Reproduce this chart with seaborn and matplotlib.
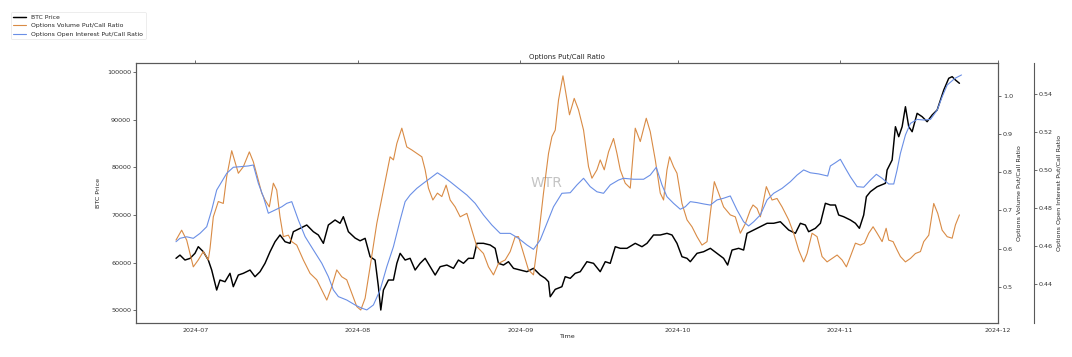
import pandas as pd
import numpy as np
import seaborn as sns
import matplotlib.pyplot as plt
import matplotlib.dates as mdates
import matplotlib.ticker as tick

# day offsets are counted from 2024-07-01
BASE = pd.Timestamp("2024-07-01")

btc_days = [-3.68, -2.92, -1.97, -1.01, -0.06, 0.57, 1.53, 2.48, 3.13, 4.08, 4.71, 5.67, 6.62, 7.25,
            8.21, 9.16, 10.44, 11.39, 12.35, 13.30, 14.26, 15.21, 16.16, 17.12, 18.07, 18.70, 19.98,
            21.26, 22.52, 23.47, 24.43, 25.38, 26.66, 27.61, 28.24, 29.20, 30.48, 31.43, 32.39, 33.34,
            34.29, 34.92, 35.38, 35.88, 36.83, 37.79, 38.44, 39.07, 40.02, 40.97, 41.93, 42.88, 43.84,
            44.79, 45.75, 46.70, 47.98, 49.24, 50.19, 51.15, 52.10, 53.05, 53.70, 54.96, 56.24, 57.19,
            57.82, 58.78, 59.73, 60.69, 61.96, 63.24, 64.50, 65.78, 66.74, 67.37, 67.69, 68.65, 69.92,
            70.55, 71.51, 72.46, 73.42, 74.69, 75.95, 77.23, 78.19, 79.14, 80.10, 81.05, 82.33, 83.91,
            85.19, 86.15, 87.40, 88.68, 89.96, 90.92, 91.87, 92.82, 93.78, 94.41, 95.69, 96.95, 98.23,
            99.50, 100.76, 101.53, 102.37, 103.63, 104.58, 105.23, 106.49, 107.77, 109.05, 110.31,
            111.58, 112.21, 113.17, 114.45, 115.40, 116.35, 116.98, 118.26, 119.22, 120.17, 121.12,
            122.08, 122.71, 123.66, 124.94, 125.90, 126.66, 127.48, 127.99, 128.76, 130.04, 131.62,
            131.94, 132.90, 133.53, 134.16, 134.81, 135.44, 136.07, 136.72, 137.67, 138.63, 139.58,
            140.53, 141.49, 142.12, 142.75, 143.70, 144.35, 144.98, 145.74]
btc_price = [60920, 61600, 60560, 60900, 61970, 63360, 62310, 60560, 58460, 54260, 56360, 56000, 57770,
             54960, 57410, 57770, 58460, 57060, 58110, 59870, 62310, 64410, 65820, 64410, 64070, 66510,
             67220, 67920, 66510, 65820, 64070, 67920, 68970, 68280, 69660, 66510, 65180, 64600, 65120,
             61260, 60560, 55000, 50060, 54260, 56360, 56360, 59870, 61970, 60560, 60920, 58460, 59870,
             60920, 59160, 57410, 59160, 59510, 58820, 60560, 59870, 60920, 60920, 64070, 64070, 63720,
             63020, 59870, 59510, 60210, 58820, 58460, 58110, 58820, 57410, 56720, 56000, 52850, 54400,
             54960, 57060, 56720, 57770, 58110, 60210, 59870, 58110, 60210, 59870, 63360, 63020, 63020,
             64070, 63360, 64070, 65820, 65820, 66170, 65820, 64070, 61260, 60920, 60210, 61970, 62310,
             63020, 61970, 60920, 59510, 62660, 63020, 62660, 66170, 66870, 67560, 68280, 68280, 68610,
             67920, 66870, 66170, 68280, 67920, 66510, 67220, 68280, 72480, 72120, 72120, 70020, 69660,
             68970, 68280, 67220, 70020, 73870, 74920, 75960, 76680, 79470, 81570, 88570, 86470, 88570,
             92770, 88570, 87520, 91380, 90670, 89620, 91030, 92080, 94180, 96280, 98740, 99080, 98380,
             97690]

vol_days = [-3.68, -2.60, -1.64, -0.38, 0.57, 1.53, 2.48, 2.81, 3.44, 4.39, 5.34, 5.99, 6.95, 7.58, 8.21,
            9.16, 10.31, 11.07, 12.02, 12.67, 13.30, 14.12, 14.89, 15.53, 16.16, 16.79, 17.75, 18.40,
            19.35, 20.61, 21.89, 23.17, 24.43, 25.08, 26.03, 26.98, 27.94, 28.89, 29.85, 30.80, 31.56,
            32.39, 33.34, 34.62, 35.88, 37.15, 37.79, 38.44, 39.39, 40.34, 41.30, 42.25, 43.21, 43.84,
            44.47, 45.31, 46.18, 47.02, 47.84, 48.61, 49.56, 50.52, 51.79, 52.75, 53.70, 54.96, 55.92,
            56.87, 57.82, 59.10, 60.06, 61.01, 61.64, 62.60, 63.55, 64.50, 65.46, 66.41, 67.37, 68.02,
            68.65, 69.28, 70.12, 70.88, 71.37, 72.27, 73.09, 74.05, 75.00, 75.65, 76.60, 77.23, 78.00,
            78.82, 79.77, 80.42, 81.05, 82.00, 82.96, 83.91, 84.87, 86.01, 86.77, 87.73, 88.68, 89.31,
            89.96, 90.46, 91.22, 91.87, 92.82, 93.78, 94.73, 95.69, 96.64, 97.60, 98.23, 98.99, 99.81,
            100.76, 102.04, 102.99, 103.95, 104.90, 105.86, 106.37, 107.14, 107.77, 108.91, 110.00,
            110.95, 111.91, 113.17, 114.12, 115.08, 116.03, 116.68, 117.63, 118.59, 119.54, 120.50,
            121.45, 122.41, 123.36, 124.18, 124.94, 125.90, 126.85, 127.61, 128.44, 129.27, 130.04,
            130.99, 131.76, 132.25, 133.09, 133.85, 134.48, 135.44, 136.39, 137.35, 138.30, 138.93,
            139.89, 140.84, 141.60, 142.44, 143.40, 144.35, 144.98, 145.74]
vol_ratio = [0.622, 0.648, 0.622, 0.552, 0.570, 0.592, 0.570, 0.600, 0.683, 0.723, 0.718, 0.788, 0.856,
             0.827, 0.797, 0.814, 0.853, 0.827, 0.779, 0.745, 0.727, 0.709, 0.771, 0.753, 0.683, 0.631,
             0.635, 0.618, 0.609, 0.570, 0.535, 0.518, 0.483, 0.465, 0.500, 0.544, 0.526, 0.518, 0.483,
             0.448, 0.439, 0.470, 0.552, 0.666, 0.753, 0.840, 0.832, 0.875, 0.915, 0.866, 0.858, 0.849,
             0.840, 0.806, 0.758, 0.727, 0.745, 0.736, 0.766, 0.727, 0.709, 0.683, 0.692, 0.648, 0.605,
             0.587, 0.552, 0.531, 0.561, 0.570, 0.592, 0.631, 0.631, 0.587, 0.544, 0.531, 0.631, 0.745,
             0.849, 0.893, 0.910, 0.989, 1.052, 0.989, 0.950, 0.993, 0.963, 0.910, 0.814, 0.784, 0.806,
             0.832, 0.806, 0.853, 0.888, 0.849, 0.806, 0.771, 0.758, 0.915, 0.880, 0.941, 0.906, 0.832,
             0.745, 0.727, 0.806, 0.840, 0.814, 0.797, 0.718, 0.675, 0.657, 0.631, 0.609, 0.618, 0.692,
             0.775, 0.745, 0.709, 0.688, 0.683, 0.640, 0.665, 0.701, 0.714, 0.705, 0.683, 0.762, 0.727,
             0.731, 0.709, 0.675, 0.640, 0.596, 0.565, 0.587, 0.640, 0.631, 0.579, 0.565, 0.574, 0.583,
             0.570, 0.552, 0.579, 0.614, 0.609, 0.614, 0.640, 0.657, 0.640, 0.618, 0.653, 0.622, 0.618,
             0.596, 0.579, 0.565, 0.574, 0.587, 0.592, 0.618, 0.635, 0.718, 0.692, 0.648, 0.631, 0.627,
             0.662, 0.688]

oi_days = [-3.68, -2.92, -1.64, -0.38, 0.90, 2.18, 3.13, 4.08, 5.04, 5.99, 7.25, 8.53, 10.11, 11.07,
           12.02, 12.98, 13.93, 15.21, 16.49, 17.44, 18.40, 19.66, 20.94, 22.52, 24.12, 25.38, 26.34,
           27.29, 28.89, 30.48, 31.76, 32.71, 33.97, 35.25, 36.53, 37.79, 39.07, 40.02, 40.97, 42.25,
           43.51, 44.79, 46.18, 47.33, 48.61, 50.19, 51.79, 53.38, 54.96, 56.56, 58.15, 60.06, 61.64,
           63.24, 64.50, 65.78, 67.06, 68.32, 69.92, 71.51, 72.79, 74.05, 75.32, 76.60, 77.86, 79.14,
           80.73, 81.68, 83.59, 85.50, 86.77, 87.92, 89.01, 89.96, 91.22, 92.50, 93.45, 94.41, 95.69,
           96.95, 98.23, 99.50, 100.76, 102.04, 103.32, 104.58, 105.53, 106.49, 107.77, 109.05, 110.31,
           111.91, 113.49, 114.77, 116.03, 117.31, 118.89, 120.61, 121.12, 122.08, 123.03, 123.99,
           124.94, 126.22, 127.48, 128.76, 129.90, 130.99, 132.25, 133.21, 133.85, 134.48, 135.44,
           136.39, 137.67, 138.93, 140.21, 141.49, 142.44, 143.40, 144.86, 146.13]
oi_ratio = [0.4624, 0.4642, 0.4650, 0.4642, 0.4668, 0.4703, 0.4791, 0.4896, 0.4940, 0.4984, 0.5016,
            0.5019, 0.5023, 0.5028, 0.4932, 0.4861, 0.4774, 0.4791, 0.4808, 0.4826, 0.4835, 0.4738,
            0.4651, 0.4581, 0.4511, 0.4440, 0.4370, 0.4335, 0.4317, 0.4291, 0.4274, 0.4265, 0.4291,
            0.4370, 0.4493, 0.4598, 0.4738, 0.4835, 0.4870, 0.4905, 0.4932, 0.4958, 0.4987, 0.4966,
            0.4940, 0.4905, 0.4870, 0.4826, 0.4765, 0.4712, 0.4668, 0.4668, 0.4642, 0.4607, 0.4584,
            0.4633, 0.4721, 0.4808, 0.4879, 0.4882, 0.4923, 0.4958, 0.4914, 0.4887, 0.4879, 0.4923,
            0.4949, 0.4958, 0.4953, 0.4953, 0.4975, 0.5016, 0.4923, 0.4861, 0.4826, 0.4795, 0.4808,
            0.4835, 0.4830, 0.4823, 0.4817, 0.4844, 0.4853, 0.4865, 0.4791, 0.4729, 0.4707, 0.4729,
            0.4765, 0.4844, 0.4879, 0.4905, 0.4940, 0.4975, 0.5002, 0.4987, 0.4981, 0.4970, 0.5023,
            0.5040, 0.5058, 0.5011, 0.4966, 0.4914, 0.4911, 0.4949, 0.4979, 0.4958, 0.4928, 0.4928,
            0.5002, 0.5089, 0.5186, 0.5247, 0.5268, 0.5265, 0.5268, 0.5317, 0.5387, 0.5449, 0.5484,
            0.5502]


def to_dates(days):
    return BASE + pd.to_timedelta(np.array(days), unit="D")


def main():
    sns.set_style("white")
    plt.rcParams["font.family"] = ["DejaVu Sans"]
    fs = 4.6
    spine_c = "0.35"

    btc = pd.DataFrame({"time": to_dates(btc_days), "value": btc_price})
    vol = pd.DataFrame({"time": to_dates(vol_days), "value": vol_ratio})
    oi = pd.DataFrame({"time": to_dates(oi_days), "value": oi_ratio})

    fig = plt.figure(figsize=(10.72, 3.57), dpi=100)
    ax = fig.add_axes([0.1269, 0.0952, 0.8041, 0.7283])
    ax2 = ax.twinx()
    ax3 = ax.twinx()
    # third axis spine sits ~36 px right of the plot edge
    ax3.spines["right"].set_position(("outward", 26))

    sns.lineplot(data=btc, x="time", y="value", ax=ax, color="black", lw=1.05, legend=False)
    sns.lineplot(data=vol, x="time", y="value", ax=ax2, color="#D98B45", lw=0.8, legend=False)
    sns.lineplot(data=oi, x="time", y="value", ax=ax3, color="#6A8FE6", lw=0.8, legend=False)

    ax.set_xlim(BASE - pd.Timedelta(days=11.3), BASE + pd.Timedelta(days=153.1))
    ax.set_ylim(47330, 101950)
    ax2.set_ylim(0.405, 1.0856)
    ax3.set_ylim(0.4196, 0.5565)

    ax.xaxis.set_major_locator(mdates.MonthLocator())
    ax.xaxis.set_major_formatter(mdates.DateFormatter("%Y-%m"))
    ax.set_yticks(np.arange(50000, 100001, 10000))
    ax2.set_yticks([0.5, 0.6, 0.7, 0.8, 0.9, 1.0])
    ax2.yaxis.set_major_formatter(tick.FormatStrFormatter("%.1f"))
    ax3.set_yticks([0.44, 0.46, 0.48, 0.50, 0.52, 0.54])
    ax3.yaxis.set_major_formatter(tick.FormatStrFormatter("%.2f"))

    for a in (ax, ax2, ax3):
        for s in a.spines.values():
            s.set_color(spine_c)
            s.set_linewidth(0.8)
        a.tick_params(labelsize=fs, length=2, width=0.5, pad=1.5, colors="0.2")
    ax.tick_params(axis="x", top=True)
    ax3.spines["left"].set_visible(False)
    ax3.spines["top"].set_visible(False)
    ax3.spines["bottom"].set_visible(False)

    ax.set_xlabel("Time", fontsize=fs, labelpad=1, color="0.15")
    ax.set_ylabel("BTC Price", fontsize=fs, labelpad=4, color="0.15")
    ax2.set_ylabel("Options Volume Put/Call Ratio", fontsize=fs, labelpad=3, color="0.15")
    ax3.set_ylabel("Options Open Interest Put/Call Ratio", fontsize=fs, labelpad=3, color="0.15")
    ax.set_title("Options Put/Call Ratio", fontsize=5, pad=3)

    ax.text(0.476, 0.54, "WTR", transform=ax.transAxes, fontsize=10, color="#c4c4c4",
            ha="center", va="center", zorder=0)

    handles = [ax.lines[0], ax2.lines[0], ax3.lines[0]]
    labels = ["BTC Price", "Options Volume Put/Call Ratio", "Options Open Interest Put/Call Ratio"]
    leg = fig.legend(handles, labels, loc="upper left", bbox_to_anchor=(0.007, 0.975),
                     fontsize=4.4, frameon=True, handlelength=2.2, borderpad=0.4, labelspacing=0.55)
    leg.get_frame().set_edgecolor("0.88")
    leg.get_frame().set_linewidth(0.5)

    fig.savefig("out.png", dpi=100)


if __name__ == "__main__":
    main()
